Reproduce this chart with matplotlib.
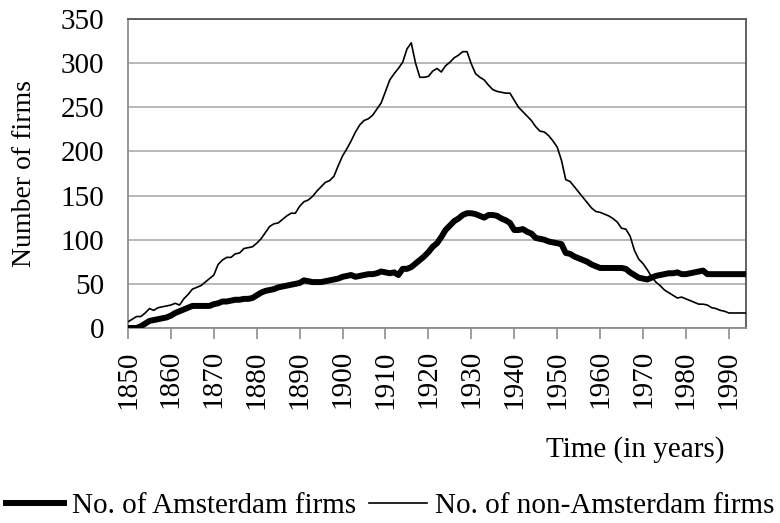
"""
Number of Amsterdam and non-Amsterdam firms per year, 1850-1994.
"""

import matplotlib
matplotlib.use('Agg')
import matplotlib.pyplot as plt
import numpy as np


years = list(range(1850, 1995))

# No. of Amsterdam firms (thick line), one value per year 1850..1994
amsterdam = [
    0, 0, 0, 2, 5, 8, 9, 10, 11, 12,                 # 1850s
    14, 17, 19, 21, 23, 25, 25, 25, 25, 25,          # 1860s
    27, 28, 30, 30, 31, 32, 32, 33, 33, 34,          # 1870s
    37, 40, 42, 43, 44, 46, 47, 48, 49, 50,          # 1880s
    51, 54, 53, 52, 52, 52, 53, 54, 55, 56,          # 1890s
    58, 59, 60, 58, 59, 60, 61, 61, 62, 64,          # 1900s
    63, 62, 63, 60, 67, 67, 69, 73, 77, 81,          # 1910s
    86, 92, 96, 103, 111, 116, 121, 124, 128, 130,   # 1920s
    130, 129, 127, 125, 128, 128, 127, 124, 122, 119,  # 1930s
    111, 111, 112, 109, 107, 102, 101, 100, 98, 97,  # 1940s
    96, 95, 85, 84, 81, 79, 77, 75, 72, 70,          # 1950s
    68, 68, 68, 68, 68, 68, 67, 63, 60, 57,          # 1960s
    56, 55, 57, 59, 60, 61, 62, 62, 63, 61,          # 1970s
    61, 62, 63, 64, 65, 61, 61, 61, 61, 61,          # 1980s
    61, 61, 61, 61, 61,                              # 1990-1994
]

# No. of non-Amsterdam firms (thin line)
non_amsterdam = [
    7, 10, 13, 13, 17, 22, 20, 23, 24, 25,           # 1850s
    26, 28, 26, 33, 38, 44, 46, 48, 52, 56,          # 1860s
    60, 72, 77, 80, 80, 84, 85, 90, 91, 92,          # 1870s
    96, 101, 108, 115, 118, 119, 123, 127, 130, 130,  # 1880s
    138, 143, 145, 149, 155, 160, 165, 167, 172, 184,  # 1890s
    195, 203, 212, 222, 230, 235, 237, 241, 248, 255,  # 1900s
    268, 281, 288, 294, 301, 316, 323, 300, 284, 284,  # 1910s
    285, 291, 294, 290, 297, 301, 306, 309, 313, 313,  # 1920s
    299, 288, 284, 281, 275, 270, 268, 267, 266, 266,  # 1930s
    258, 250, 245, 240, 235, 228, 223, 222, 218, 212,  # 1940s
    205, 190, 168, 166, 160, 154, 148, 142, 136, 132,  # 1950s
    131, 129, 127, 124, 120, 113, 112, 104, 88, 78,  # 1960s
    73, 66, 58, 52, 48, 43, 40, 37, 34, 35,          # 1970s
    33, 31, 29, 27, 27, 26, 23, 22, 20, 19,          # 1980s
    17, 17, 17, 17, 17,                              # 1990-1994
]

y_ticks = [0, 50, 100, 150, 200, 250, 300, 350]
x_ticks = list(range(1850, 1991, 10))


def main():
    plt.rcParams['font.family'] = ['Liberation Serif', 'DejaVu Serif']
    fs = 21

    fig = plt.figure(figsize=(7.8, 5.23), dpi=100)
    ax = fig.add_axes([128 / 780, 1 - 328 / 523, (746 - 128) / 780, (328 - 19) / 523])

    ax.plot(years, amsterdam, color='black', linewidth=4.3,
            solid_joinstyle='round', label='No. of Amsterdam firms', zorder=3)
    ax.plot(years, non_amsterdam, color='black', linewidth=1.2,
            label='No. of non-Amsterdam firms', zorder=4)

    ax.set_xlim(1850, 1994)
    ax.set_ylim(0, 350)
    ax.set_yticks(y_ticks)
    ax.set_xticks(x_ticks)
    ax.set_xticklabels([str(t) for t in x_ticks], rotation=90, fontsize=fs)
    ax.set_yticklabels([str(t) for t in y_ticks], fontsize=fs)

    # horizontal gridlines only
    ax.yaxis.grid(True, color='#ababab', linewidth=1.2)
    ax.set_axisbelow(True)

    ax.tick_params(axis='y', length=0, pad=17)
    ax.tick_params(axis='x', length=8, width=1.2, color='#8c8c8c',
                   direction='out', pad=8)

    for side in ['left', 'bottom']:
        ax.spines[side].set_color('#8c8c8c')
        ax.spines[side].set_linewidth(1.3)
    for side in ['top', 'right']:
        ax.spines[side].set_color('#555555')
        ax.spines[side].set_linewidth(1.3)

    fig.text(25 / 780, 1 - 173.5 / 523, 'Number of firms', rotation=90,
             ha='center', va='center', fontsize=20)
    fig.text(725 / 780, 1 - 450 / 523, 'Time (in years)',
             ha='right', va='center', fontsize=fs)

    fig.legend(loc='center', bbox_to_anchor=(0.5, 1 - 506 / 523), ncol=2,
               frameon=False, fontsize=fs, handlelength=2.0,
               handletextpad=0.25, columnspacing=0.45, borderpad=0,
               borderaxespad=0)

    fig.savefig('out.png', dpi=100)
    plt.close(fig)


if __name__ == '__main__':
    main()
